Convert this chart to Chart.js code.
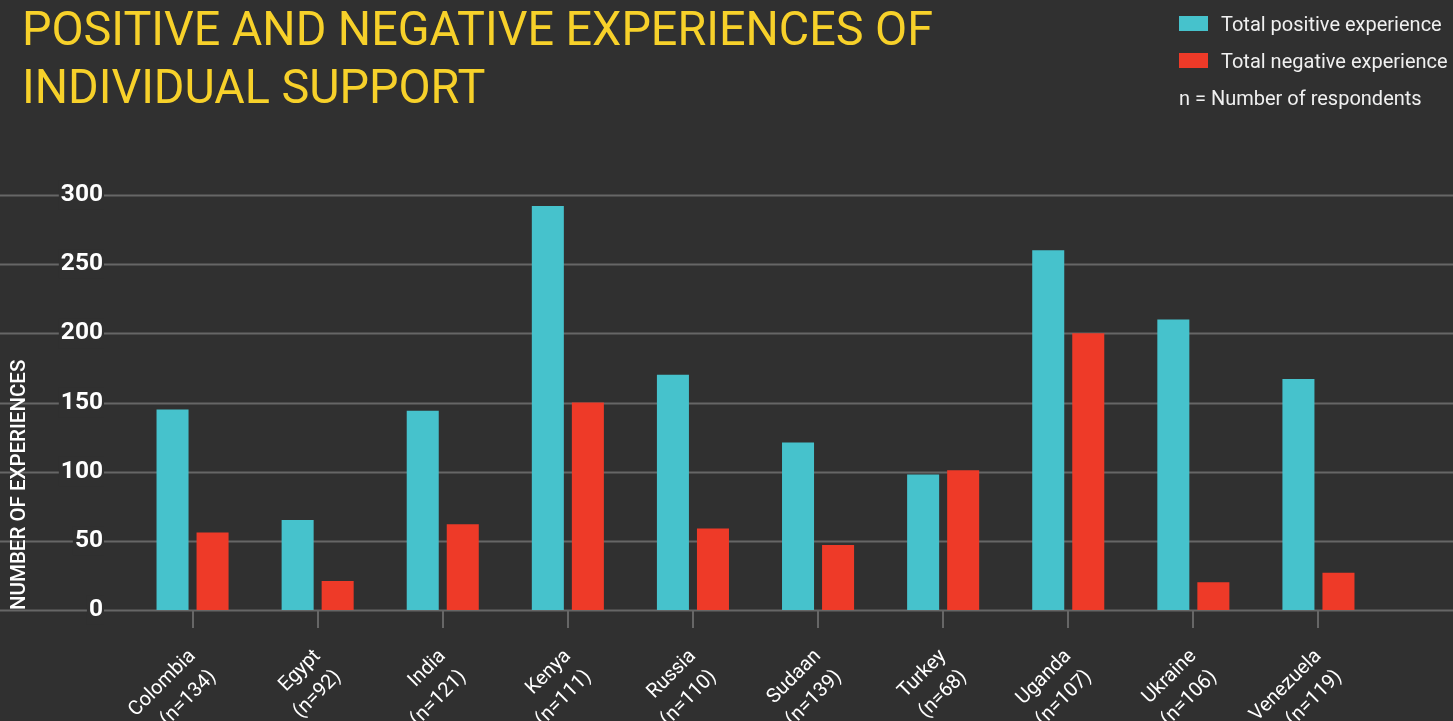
<!DOCTYPE html>
<html>
<head>
<meta charset="utf-8">
<script src="https://cdn.jsdelivr.net/npm/chart.js@4.4.1/dist/chart.umd.min.js"></script>
<style>
  html, body { margin: 0; padding: 0; background: #303030; overflow: hidden; }
  #wrap { position: relative; width: 1453px; height: 721px; }
  #chart { position: absolute; left: 0; top: 0; }
  #title {
    position: absolute; left: 22px; top: 0; margin: 0;
    font-family: Roboto, sans-serif; font-weight: 400; font-size: 48px; line-height: 58px;
    color: #f7d12a; white-space: nowrap; transform-origin: 0 0;
  }
  #legend {
    position: absolute; left: 1179px; top: 5px;
    font-family: Roboto, sans-serif; font-size: 20px; color: #f0f0f0; white-space: nowrap;
  }
  #legend .row { height: 37px; display: flex; align-items: center; }
  #legend .sw { width: 29px; height: 15px; margin-right: 13px; }
</style>
</head>
<body>
<div id="wrap">
  <canvas id="chart" width="1453" height="721"></canvas>
  <h1 id="title"><span id="t1">POSITIVE AND NEGATIVE EXPERIENCES OF</span><br>INDIVIDUAL SUPPORT</h1>
  <div id="legend"></div>
</div>
<script>
const countries = ['Colombia', 'Egypt', 'India', 'Kenya', 'Russia', 'Sudaan', 'Turkey', 'Uganda', 'Ukraine', 'Venezuela'];
const respondents = [134, 92, 121, 111, 110, 139, 68, 107, 106, 119];
const positive = [145, 65, 144, 292, 170, 121, 98, 260, 210, 167];
const negative = [56, 21, 62, 150, 59, 47, 101, 200, 20, 27];
const yTicks = [0, 50, 100, 150, 200, 250, 300];

const BG = '#303030';
const GRID = '#666666';
const CYAN = '#46c2cc';
const RED = '#ee3a28';

const labels = countries.map((c, i) => [c, '(n=' + respondents[i] + ')']);

// headline is set in a narrow cut: squeeze the first line to 911px
const t1 = document.getElementById('t1');
document.getElementById('title').style.transform = 'scaleX(' + (911 / t1.getBoundingClientRect().width) + ')';

// grid lines run across the whole page width, under the labels
const fullGrid = {
  id: 'fullGrid',
  beforeDraw(chart) {
    const { ctx, scales: { y } } = chart;
    ctx.save();
    ctx.fillStyle = BG;
    ctx.fillRect(0, 0, chart.width, chart.height);
    ctx.strokeStyle = GRID;
    ctx.lineWidth = 2;
    yTicks.forEach(v => {
      const py = Math.round(y.getPixelForValue(v)) + 0.5;
      ctx.beginPath();
      ctx.moveTo(0, py);
      ctx.lineTo(chart.width, py);
      ctx.stroke();
    });
    ctx.restore();
  }
};

const chart = new Chart(document.getElementById('chart'), {
  type: 'bar',
  data: {
    labels,
    datasets: [
      { label: 'Total positive experience', data: positive, backgroundColor: CYAN },
      { label: 'Total negative experience', data: negative, backgroundColor: RED }
    ]
  },
  options: {
    responsive: false,
    animation: false,
    categoryPercentage: 0.64,
    barPercentage: 0.8,
    layout: { padding: { top: 195, right: 72, left: 0, bottom: 0 } },
    plugins: { legend: { display: false }, tooltip: { enabled: false } },
    scales: {
      x: {
        afterFit: s => { s.height = 111; },
        grid: { display: true, offset: false, drawOnChartArea: false, drawTicks: true, tickLength: 18, color: GRID, lineWidth: 2 },
        border: { display: false },
        ticks: {
          color: '#ffffff', maxRotation: 45, minRotation: 45, padding: 15,
          font: { family: 'Roboto', size: 20, lineHeight: 1.45 }
        }
      },
      y: {
        min: 0, max: 300,
        afterFit: s => { s.width = 130; },
        afterBuildTicks: s => { s.ticks = yTicks.map(v => ({ value: v })); },
        grid: { display: false },
        border: { display: false },
        ticks: {
          color: '#ffffff', padding: 19,
          font: { family: 'Roboto', size: 24.5, weight: 'bold' },
          showLabelBackdrop: true, backdropColor: BG, backdropPadding: { left: 2, right: 1, top: 0, bottom: 0 }
        },
        title: {
          display: true, text: 'NUMBER OF EXPERIENCES', align: 'start',
          color: '#ffffff', padding: { top: 8, bottom: 0 },
          font: { family: 'Roboto', size: 20.5, weight: '500' }
        }
      }
    }
  },
  plugins: [fullGrid]
});

// legend built from the datasets, plus the note about n
const legend = document.getElementById('legend');
chart.data.datasets.forEach(ds => {
  const row = document.createElement('div');
  row.className = 'row';
  row.innerHTML = '<span class="sw" style="background:' + ds.backgroundColor + '"></span>' + ds.label;
  legend.appendChild(row);
});
const note = document.createElement('div');
note.className = 'row';
note.textContent = 'n = Number of respondents';
legend.appendChild(note);
</script>
</body>
</html>
